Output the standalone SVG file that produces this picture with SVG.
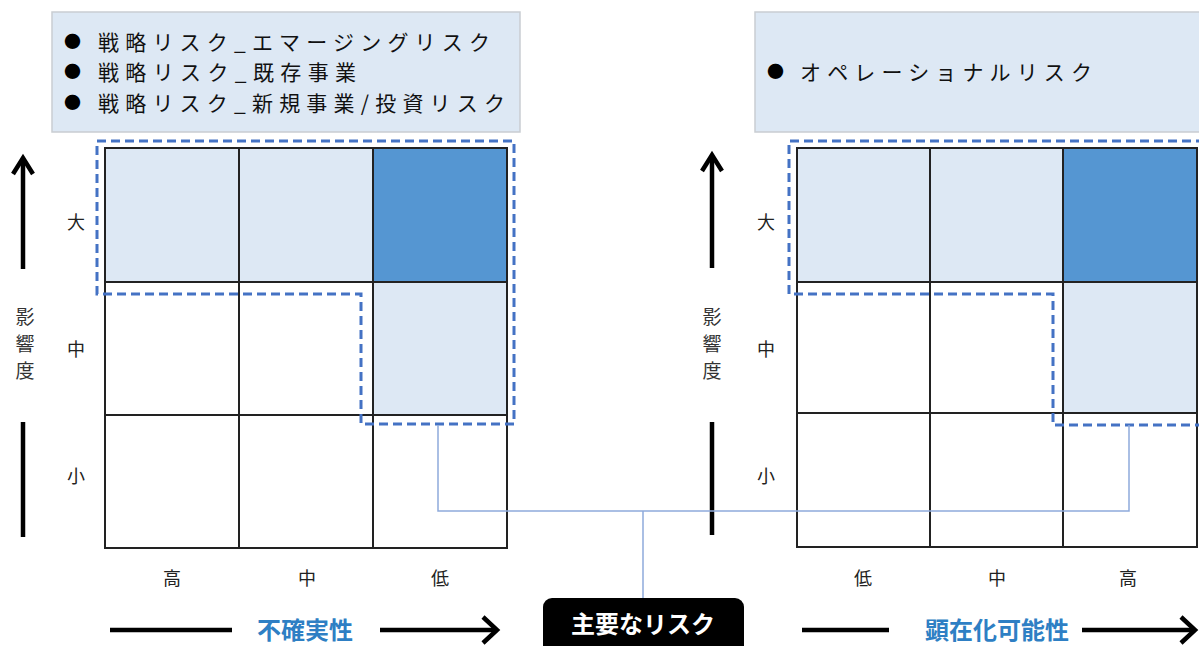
<svg xmlns="http://www.w3.org/2000/svg" width="1199" height="646" viewBox="0 0 1199 646">
<defs>
<style>
.box{fill:#dde8f4;stroke:#c9cdd2;stroke-width:1.5}
.t{font-family:"Noto Sans CJK JP","Noto Sans",sans-serif}
.big{font-size:21px;fill:#111}
.bul{font-size:17px;fill:#000}
.ax{font-size:18px;text-anchor:middle;fill:#222}
.vt{font-size:19px;text-anchor:middle;fill:#333}
.cell{stroke:#222;stroke-width:2}
.lt{fill:#dde8f4}
.dk{fill:#5596d2}
.wh{fill:#ffffff}
.dash{fill:none;stroke:#4472c4;stroke-width:3;stroke-dasharray:9,5}
.arr{fill:none;stroke:#000;stroke-width:4.5}
.blue{font-size:24px;fill:#2e7fc4;text-anchor:middle;font-weight:600}
.conn{fill:none;stroke:#8eaadb;stroke-width:1.5}
.lbl{font-size:24px;font-weight:bold;text-anchor:middle;fill:#ffffff}
</style>
</defs>
<rect width="1199" height="646" fill="#ffffff"/>

<g id="legend-left">
<rect class="box" x="52" y="12" width="468" height="120"/>
<text class="t bul" x="64" y="48">●</text>
<text class="t big" x="98" y="50" textLength="392" lengthAdjust="spacing">戦略リスク_エマージングリスク</text>
<text class="t bul" x="64" y="78">●</text>
<text class="t big" x="98" y="80" textLength="258" lengthAdjust="spacing">戦略リスク_既存事業</text>
<text class="t bul" x="64" y="109">●</text>
<text class="t big" x="98" y="111" textLength="407" lengthAdjust="spacing">戦略リスク_新規事業/投資リスク</text>
</g>

<g id="legend-right">
<rect class="box" x="755" y="12" width="450" height="120"/>
<text class="t bul" x="767" y="78">●</text>
<text class="t big" x="800" y="80" textLength="292" lengthAdjust="spacing">オペレーショナルリスク</text>
</g>

<g id="grid-left">
<rect class="cell lt" x="105" y="148" width="134" height="134"/>
<rect class="cell lt" x="239" y="148" width="134" height="134"/>
<rect class="cell dk" x="373" y="148" width="134" height="134"/>
<rect class="cell wh" x="105" y="282" width="134" height="133"/>
<rect class="cell wh" x="239" y="282" width="134" height="133"/>
<rect class="cell lt" x="373" y="282" width="134" height="133"/>
<rect class="cell wh" x="105" y="415" width="134" height="133"/>
<rect class="cell wh" x="239" y="415" width="134" height="133"/>
<rect class="cell wh" x="373" y="415" width="134" height="133"/>
<path class="dash" d="M97,141 H514 V424 H361 V294 H97 Z"/>
</g>

<g id="grid-right">
<rect class="cell lt" x="797" y="148" width="133" height="134"/>
<rect class="cell lt" x="930" y="148" width="133" height="134"/>
<rect class="cell dk" x="1063" y="148" width="134" height="134"/>
<rect class="cell wh" x="797" y="282" width="133" height="131"/>
<rect class="cell wh" x="930" y="282" width="133" height="131"/>
<rect class="cell lt" x="1063" y="282" width="134" height="131"/>
<rect class="cell wh" x="797" y="413" width="133" height="134"/>
<rect class="cell wh" x="930" y="413" width="133" height="134"/>
<rect class="cell wh" x="1063" y="413" width="134" height="134"/>
<path class="dash" d="M1205,141 H789 V294 H1053 V425 H1205"/>
</g>

<g id="axis-left">
<line class="arr" x1="23" y1="269" x2="23" y2="159"/>
<polyline class="arr" points="13,174 23,158 33,174"/>
<text class="t vt" x="25" y="324">影</text>
<text class="t vt" x="25" y="351">響</text>
<text class="t vt" x="25" y="378">度</text>
<line class="arr" x1="23" y1="422" x2="23" y2="537"/>
<text class="t ax" x="76" y="229">大</text>
<text class="t ax" x="76" y="356">中</text>
<text class="t ax" x="76" y="483">小</text>
<text class="t ax" x="172" y="585">高</text>
<text class="t ax" x="307" y="585">中</text>
<text class="t ax" x="440" y="585">低</text>
<line class="arr" x1="110" y1="630" x2="232" y2="630"/>
<text class="t blue" x="305" y="639">不確実性</text>
<line class="arr" x1="380" y1="630" x2="496" y2="630"/>
<polyline class="arr" points="483,617 497,630 483,643"/>
</g>

<g id="axis-right">
<line class="arr" x1="712" y1="268" x2="712" y2="156"/>
<polyline class="arr" points="702,171 712,155 722,171"/>
<text class="t vt" x="712" y="324">影</text>
<text class="t vt" x="712" y="351">響</text>
<text class="t vt" x="712" y="378">度</text>
<line class="arr" x1="712" y1="422" x2="712" y2="535"/>
<text class="t ax" x="766" y="229">大</text>
<text class="t ax" x="766" y="356">中</text>
<text class="t ax" x="766" y="483">小</text>
<text class="t ax" x="863" y="585">低</text>
<text class="t ax" x="997" y="585">中</text>
<text class="t ax" x="1128" y="585">高</text>
<line class="arr" x1="802" y1="630" x2="889" y2="630"/>
<text class="t blue" x="997" y="639">顕在化可能性</text>
<line class="arr" x1="1082" y1="630" x2="1194" y2="630"/>
<polyline class="arr" points="1181,617 1195,630 1181,643"/>
</g>

<g id="connectors">
<polyline class="conn" points="438,425 438,511 1129,511 1129,425"/>
<line class="conn" x1="643" y1="511" x2="643" y2="598"/>
</g>

<g id="label-main-risk">
<rect x="543" y="598" width="201" height="60" rx="9" fill="#000"/>
<text class="t lbl" x="643" y="633">主要なリスク</text>
</g>
</svg>
